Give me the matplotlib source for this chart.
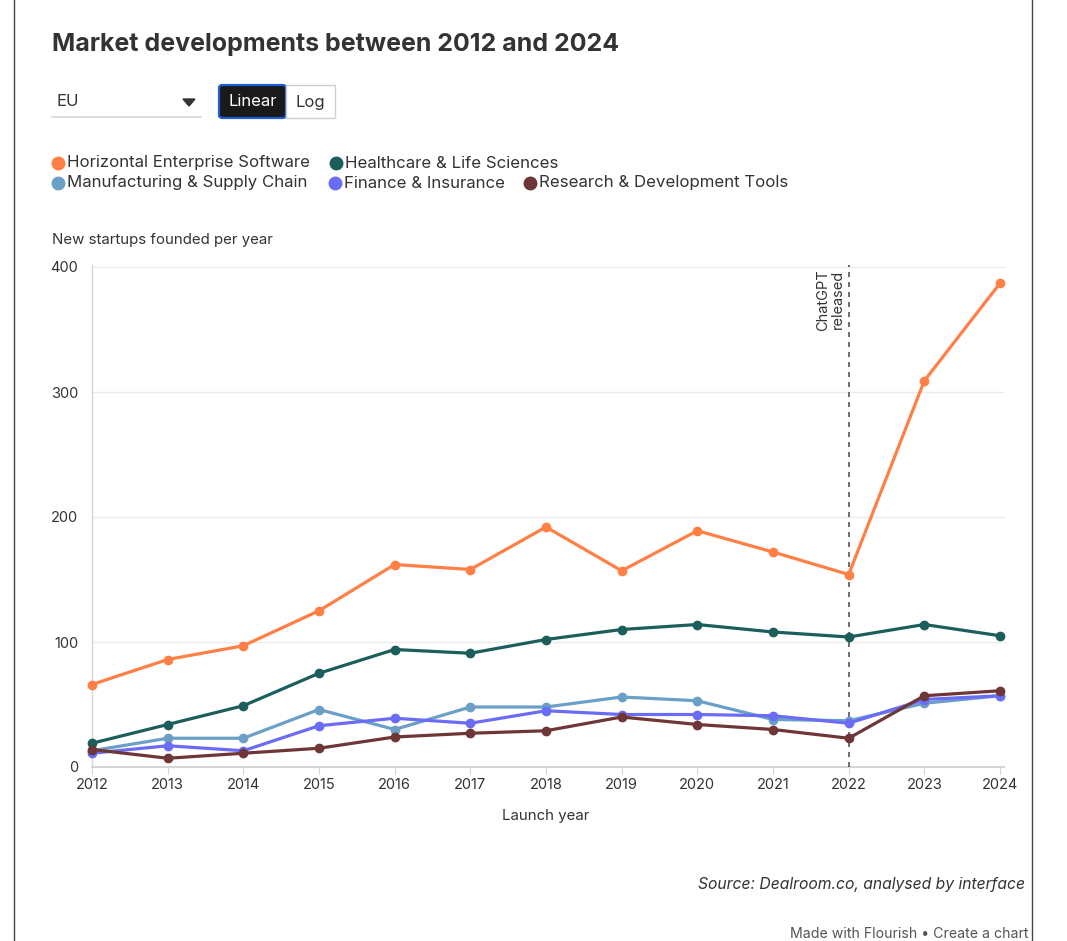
import matplotlib.pyplot as plt
import matplotlib.patches as patches
from matplotlib.lines import Line2D

plt.rcParams['font.family'] = ['Inter', 'DejaVu Sans']

# data
years = list(range(2012, 2025))
horizontal = [66, 86, 97, 125, 162, 158, 192, 157, 189, 172, 154, 309, 387]
healthcare = [19, 34, 49, 75, 94, 91, 102, 110, 114, 108, 104, 114, 105]
manufacturing = [13, 23, 23, 46, 30, 48, 48, 56, 53, 38, 37, 51, 57]
finance = [11, 17, 13, 33, 39, 35, 45, 42, 42, 41, 35, 54, 57]
research = [14, 7, 11, 15, 24, 27, 29, 40, 34, 30, 23, 57, 61]

series_names = ["Horizontal Enterprise Software", "Healthcare & Life Sciences",
                "Manufacturing & Supply Chain", "Finance & Insurance",
                "Research & Development Tools"]
series_vals = [horizontal, healthcare, manufacturing, finance, research]
colors = ['#ff7f45', '#1b5e5b', '#6a9fc6', '#6b6cf6', '#6e3636']
yticks = [0, 100, 200, 300, 400]

W, H = 1067, 941
fig = plt.figure(figsize=(W / 100, H / 100), dpi=100)
fig.patch.set_facecolor('white')

def fx(px):
    return px / W

def fy(py):
    return 1 - py / H

# page borders
fig.add_artist(Line2D([fx(14), fx(14)], [0, 1], color='#444444', lw=1.0))
fig.add_artist(Line2D([fx(1032), fx(1032)], [0, 1], color='#444444', lw=1.0))

# title
fig.text(fx(52), fy(44), "Market developments between 2012 and 2024",
         fontsize=18, fontweight='bold', color='#333333', va='center', ha='left')

# dropdown
fig.text(fx(56), fy(102), "EU", fontsize=12, color='#333333', va='center')
fig.add_artist(Line2D([fx(52), fx(201)], [fy(117), fy(117)], color='#d8d8d8', lw=1.2))
fig.add_artist(patches.Polygon([[fx(183), fy(99)], [fx(195), fy(99)], [fx(189), fy(106)]],
                               closed=True, color='#333333', transform=fig.transFigure))

# buttons
fig.add_artist(patches.FancyBboxPatch((fx(219), fy(118)), fx(286) - fx(219), fy(85) - fy(118),
                                      boxstyle="round,pad=0,rounding_size=0.003",
                                      facecolor='#1a1a1a', edgecolor='#1f5fd6', lw=1.6,
                                      transform=fig.transFigure))
fig.text(fx(252.5), fy(102), "Linear", fontsize=12, color='white', ha='center', va='center')
fig.add_artist(patches.Rectangle((fx(286), fy(118)), fx(335) - fx(286), fy(85) - fy(118),
                                 facecolor='white', edgecolor='#d0d0d0', lw=1.0,
                                 transform=fig.transFigure))
fig.text(fx(310), fy(102), "Log", fontsize=12, color='#333333', ha='center', va='center')

# legend
legend_pos = [(58, 163), (336, 163), (58, 183), (335, 183), (530, 183)]
for (lx, ly), name, c in zip(legend_pos, series_names, colors):
    fig.add_artist(Line2D([fx(lx)], [fy(ly)], marker='o', markersize=9, color=c,
                          linestyle='none', transform=fig.transFigure))
    fig.text(fx(lx + 9), fy(ly), name, fontsize=12.1, color='#333333', va='center', ha='left')

fig.text(fx(52), fy(240), "New startups founded per year", fontsize=10.8, color='#333333',
         va='center', ha='left')

# main axes
ax = fig.add_axes([fx(92), fy(767), fx(1000) - fx(92), fy(267) - fy(767)])
ax.set_xlim(2012, 2024)
ax.set_ylim(0, 400)
for y in yticks[1:]:
    ax.axhline(y, color='#ececec', lw=1.0, zorder=0, xmax=1.004, clip_on=False)
ax.axhline(0, color='#d6d6d6', lw=1.5, zorder=0, xmax=1.004, clip_on=False)
for s in ['top', 'right', 'bottom']:
    ax.spines[s].set_visible(False)
ax.spines['left'].set_color('#d6d6d6')
ax.spines['left'].set_linewidth(1.0)
ax.spines['left'].set_bounds(0, 402)

ax.set_xticks(years)
ax.set_yticks(yticks)
ax.tick_params(axis='x', length=5, color='#d6d6d6', labelsize=10.5, labelcolor='#333333', pad=3)
ax.tick_params(axis='y', length=0, labelsize=10.5, labelcolor='#333333', pad=10)
ax.set_xlabel("Launch year", fontsize=10.8, color='#333333', labelpad=12)

for vals, c in zip(series_vals, colors):
    ax.plot(years, vals, color=c, lw=2.3, marker='o', markersize=6, clip_on=False, zorder=3)

# ChatGPT release annotation
ax.axvline(2022, ymin=0, ymax=1.004, color='#555555', lw=1.2, linestyle=(0, (3, 3)),
           zorder=2, clip_on=False)
ax.annotate("ChatGPT\nreleased", xy=(2022, 398), xytext=(-3, 0), textcoords='offset points',
            rotation=90, ha='right', va='top', multialignment='right',
            fontsize=10.5, color='#333333', linespacing=1.0)

# footer
fig.text(fx(1025), fy(885), "Source: Dealroom.co, analysed by interface", fontsize=11.3,
         style='italic', color='#333333', ha='right', va='center')
fig.text(fx(1028), fy(934), "Made with Flourish \u2022 Create a chart", fontsize=10.2,
         color='#555555', ha='right', va='center')

fig.savefig('out.png', dpi=100)
